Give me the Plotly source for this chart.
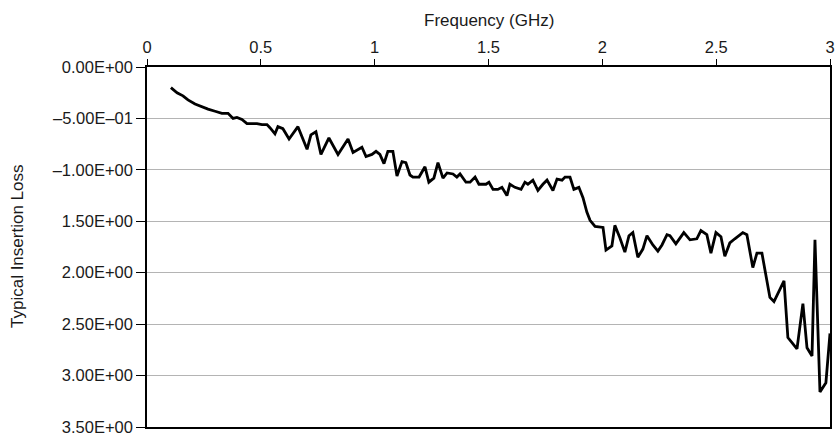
import plotly.graph_objects as go

freq_ghz = [0.105, 0.132, 0.158, 0.180, 0.211, 0.242, 0.268, 0.299, 0.329, 0.356,
            0.378, 0.395, 0.417, 0.439, 0.483, 0.505, 0.527, 0.540, 0.562, 0.575,
            0.597, 0.624, 0.663, 0.703, 0.720, 0.742, 0.764, 0.799, 0.839, 0.883,
            0.905, 0.944, 0.962, 0.988, 1.006, 1.023, 1.041, 1.058, 1.080, 1.098,
            1.120, 1.137, 1.155, 1.168, 1.195, 1.221, 1.238, 1.260, 1.278, 1.300,
            1.318, 1.344, 1.361, 1.375, 1.401, 1.419, 1.441, 1.458, 1.489, 1.502,
            1.520, 1.541, 1.559, 1.581, 1.594, 1.616, 1.643, 1.660, 1.673, 1.695,
            1.717, 1.739, 1.757, 1.783, 1.801, 1.823, 1.836, 1.858, 1.875, 1.897,
            1.915, 1.932, 1.946, 1.968, 2.003, 2.016, 2.042, 2.055, 2.077, 2.099,
            2.117, 2.134, 2.156, 2.178, 2.196, 2.222, 2.244, 2.262, 2.284, 2.297,
            2.323, 2.358, 2.385, 2.415, 2.433, 2.459, 2.477, 2.499, 2.521, 2.538,
            2.560, 2.582, 2.617, 2.635, 2.661, 2.679, 2.701, 2.736, 2.754, 2.798,
            2.815, 2.855, 2.881, 2.899, 2.921, 2.934, 2.956, 2.982, 3.000]

insertion_loss = [0.20, 0.25, 0.28, 0.32, 0.36, 0.39, 0.41, 0.43, 0.45, 0.45,
                  0.50, 0.49, 0.51, 0.55, 0.55, 0.56, 0.56, 0.59, 0.65, 0.58,
                  0.60, 0.70, 0.58, 0.80, 0.66, 0.63, 0.85, 0.69, 0.85, 0.70,
                  0.83, 0.78, 0.87, 0.85, 0.82, 0.85, 0.94, 0.82, 0.82, 1.06,
                  0.92, 0.93, 1.05, 1.07, 1.07, 0.97, 1.12, 1.08, 0.93, 1.08,
                  1.03, 1.04, 1.07, 1.04, 1.12, 1.12, 1.07, 1.14, 1.14, 1.12,
                  1.19, 1.19, 1.17, 1.25, 1.14, 1.17, 1.19, 1.12, 1.14, 1.10,
                  1.20, 1.14, 1.10, 1.20, 1.09, 1.10, 1.07, 1.07, 1.19, 1.17,
                  1.27, 1.41, 1.49, 1.55, 1.56, 1.78, 1.74, 1.54, 1.66, 1.80,
                  1.64, 1.61, 1.85, 1.77, 1.64, 1.73, 1.79, 1.73, 1.63, 1.64,
                  1.72, 1.61, 1.68, 1.67, 1.59, 1.63, 1.81, 1.61, 1.65, 1.84,
                  1.71, 1.67, 1.61, 1.63, 1.95, 1.81, 1.81, 2.24, 2.28, 2.08,
                  2.63, 2.74, 2.30, 2.73, 2.81, 1.68, 3.16, 3.07, 2.59]

x_ticks = [0, 0.5, 1, 1.5, 2, 2.5, 3]
x_tick_labels = ["0", "0.5", "1", "1.5", "2", "2.5", "3"]
y_ticks = [0, 0.5, 1.0, 1.5, 2.0, 2.5, 3.0, 3.5]
y_tick_labels = ["0.00E+00", "\u20135.00E\u201301", "\u20131.00E+00", "1.50E+00",
                 "2.00E+00", "2.50E+00", "3.00E+00", "3.50E+00"]

x_title = "Frequency (GHz)"
y_title = "Typical Insertion Loss"

fig = go.Figure()
fig.add_trace(go.Scatter(
    x=freq_ghz, y=insertion_loss, mode="lines",
    line=dict(color="#000000", width=2.8),
    showlegend=False,
))

font_family = "Liberation Sans, Arial, sans-serif"
text_color = "#1a1a1a"

fig.update_layout(
    width=835, height=434,
    margin=dict(l=147, r=5, t=67, b=7, autoexpand=False),
    paper_bgcolor="white", plot_bgcolor="white",
    font=dict(family=font_family, size=16, color=text_color),
    xaxis=dict(
        side="top", range=[0, 3], tickvals=x_ticks, ticktext=x_tick_labels,
        ticks="outside", ticklen=6, tickwidth=1.3, tickcolor="#000",
        showline=True, linecolor="#000", linewidth=1.5, mirror=True,
        showgrid=False, zeroline=False, ticklabeloverflow="allow",
        automargin=False, tickfont=dict(size=16.5),
    ),
    yaxis=dict(
        range=[3.5, 0], tickvals=y_ticks, ticktext=y_tick_labels,
        ticks="outside", ticklen=9, tickwidth=1.3, tickcolor="#000",
        showline=True, linecolor="#000", linewidth=1.5, mirror=True,
        showgrid=True, gridcolor="#b4b4b4", gridwidth=1.3, zeroline=False,
        ticklabeloverflow="allow", automargin=False,
        tickfont=dict(size=16.5),
    ),
    annotations=[
        dict(text=x_title, xref="paper", yref="paper", x=0.5, y=1,
             yanchor="middle", xanchor="center", yshift=47, showarrow=False,
             font=dict(size=17, color=text_color)),
        dict(text=y_title, xref="paper", yref="paper", x=0, y=0.5,
             xanchor="center", yanchor="middle", xshift=-130, textangle=-90,
             showarrow=False, font=dict(size=17, color=text_color)),
    ],
)

fig.write_html("out.html", config={"displayModeBar": False},
               post_script="document.body.style.margin='0';")
